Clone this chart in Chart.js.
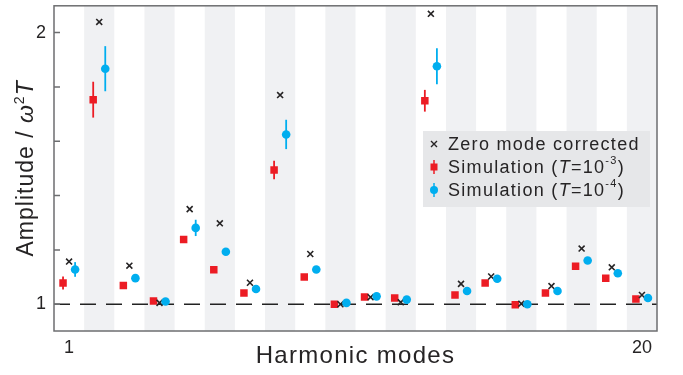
<!DOCTYPE html>
<html>
<head>
<meta charset="utf-8">
<script src="https://cdn.jsdelivr.net/npm/chart.js@4.4.1/dist/chart.umd.min.js"></script>
<style>
  html, body { margin: 0; padding: 0; background: #fff; }
  #wrap { width: 683px; height: 375px; }
</style>
</head>
<body>
<div id="wrap"><canvas id="modesChart"></canvas></div>
<script>
// ===== Data =====
const modes = [1, 2, 3, 4, 5, 6, 7, 8, 9, 10, 11, 12, 13, 14, 15, 16, 17, 18, 19, 20];
const zeroCorrected = [1.157, 2.039, 1.142, 1.005, 1.350, 1.298, 1.079, 1.770, 1.185, 1.000,
                       1.026, 1.007, 2.069, 1.075, 1.102, 1.002, 1.067, 1.205, 1.136, 1.034];
const simT3 = [1.078, 1.753, 1.069, 1.012, 1.238, 1.127, 1.041, 1.494, 1.100, 1.000,
               1.027, 1.023, 1.749, 1.034, 1.078, 0.998, 1.041, 1.140, 1.096, 1.019];
const simT3Err = [0.024, 0.066, 0.008, 0.006, 0.012, 0.008, 0.006, 0.034, 0.008, 0.005,
                  0.005, 0.005, 0.040, 0.006, 0.006, 0.005, 0.006, 0.008, 0.008, 0.005];
const simT4 = [1.128, 1.867, 1.096, 1.010, 1.281, 1.193, 1.056, 1.625, 1.128, 1.005,
               1.029, 1.017, 1.876, 1.049, 1.094, 1.000, 1.049, 1.161, 1.114, 1.023];
const simT4Err = [0.027, 0.083, 0.008, 0.005, 0.030, 0.010, 0.006, 0.054, 0.008, 0.005,
                  0.005, 0.005, 0.066, 0.006, 0.006, 0.005, 0.006, 0.008, 0.008, 0.005];
const yTicks = [1, 1.2, 1.4, 1.6, 1.8, 2];
const yTickLabels = ['1', '', '', '', '', '2'];
const xTickModes = [1, 20];

const RED = '#ec1c24';
const BLUE = '#00aeef';
const INK = '#262425';
const FONT = '"Liberation Sans", Arial, sans-serif';
const OFFSET = 0.2;

const pts = (vals, dx) => vals.map((v, i) => ({ x: modes[i] + dx, y: v }));

// ===== Plugins =====
const bandsPlugin = {
  id: 'bands',
  beforeDatasetsDraw(chart) {
    const { ctx, chartArea: a, scales: { x, y } } = chart;
    ctx.save();
    ctx.fillStyle = '#f0f1f3';
    modes.filter(m => m % 2 === 0).forEach(m => {
      const l = x.getPixelForValue(m - 0.5), r = x.getPixelForValue(m + 0.5);
      ctx.fillRect(l, a.top, r - l, a.bottom - a.top);
    });
    // reference line at 1
    ctx.strokeStyle = '#222';
    ctx.lineWidth = 1.5;
    ctx.setLineDash([16, 10]);
    ctx.beginPath();
    ctx.moveTo(a.left, y.getPixelForValue(1));
    ctx.lineTo(a.right, y.getPixelForValue(1));
    ctx.stroke();
    ctx.setLineDash([]);
    // error bars
    ctx.lineWidth = 1.8;
    [[simT3, simT3Err, -OFFSET, RED], [simT4, simT4Err, OFFSET, BLUE]].forEach(([vals, errs, dx, col]) => {
      ctx.strokeStyle = col;
      vals.forEach((v, i) => {
        const px = x.getPixelForValue(modes[i] + dx);
        ctx.beginPath();
        ctx.moveTo(px, y.getPixelForValue(v - errs[i]));
        ctx.lineTo(px, y.getPixelForValue(v + errs[i]));
        ctx.stroke();
      });
    });
    ctx.restore();
  }
};

// text runs [{t, italic, sup}] drawn one after another
function setRunFont(ctx, r, size) {
  ctx.font = (r.italic ? 'italic ' : '') + (r.sup ? Math.round(size * 0.6) : size) + 'px ' + FONT;
}
function runsWidth(ctx, runs, size) {
  let w = 0;
  runs.forEach(r => { setRunFont(ctx, r, size); w += ctx.measureText(r.t).width; });
  return w;
}
function drawRuns(ctx, runs, x0, y0, size) {
  let cx = x0;
  runs.forEach(r => {
    setRunFont(ctx, r, size);
    ctx.fillText(r.t, cx, r.sup ? y0 - size * 0.38 : y0);
    cx += ctx.measureText(r.t).width;
  });
}

const framePlugin = {
  id: 'frame',
  afterDraw(chart) {
    const { ctx, chartArea: a, scales: { x, y } } = chart;
    ctx.save();
    ctx.strokeStyle = '#6d6e70';
    ctx.lineWidth = 1.5;
    ctx.strokeRect(a.left, a.top, a.right - a.left, a.bottom - a.top);
    // inward y ticks
    ctx.beginPath();
    yTicks.forEach(v => {
      const py = y.getPixelForValue(v);
      ctx.moveTo(a.left, py);
      ctx.lineTo(a.left + 6, py);
    });
    ctx.stroke();

    ctx.fillStyle = INK;
    ctx.font = '18px ' + FONT;
    ctx.textAlign = 'right';
    ctx.textBaseline = 'middle';
    yTicks.forEach((v, i) => {
      if (yTickLabels[i]) ctx.fillText(yTickLabels[i], a.left - 8, y.getPixelForValue(v));
    });
    ctx.textAlign = 'center';
    xTickModes.forEach(m => ctx.fillText(String(m), x.getPixelForValue(m), 348));

    ctx.font = '24px ' + FONT;
    ctx.letterSpacing = '1.3px';
    ctx.textBaseline = 'alphabetic';
    ctx.fillText('Harmonic modes', x.getPixelForValue(10.5), 363);

    // y axis title
    const title = [{ t: 'Amplitude / ' }, { t: 'ω', italic: true }, { t: '2', sup: true }, { t: 'T', italic: true }];
    ctx.letterSpacing = '1px';
    ctx.textAlign = 'left';
    ctx.translate(33, (a.top + a.bottom) / 2);
    ctx.rotate(-Math.PI / 2);
    const w = runsWidth(ctx, title, 23);
    drawRuns(ctx, title, -w / 2, 0, 23);
    ctx.restore();

    // legend
    ctx.save();
    ctx.fillStyle = '#e6e7e9';
    ctx.fillRect(423, 131, 227, 76);
    const rows = [
      [{ t: 'Zero mode corrected' }],
      [{ t: 'Simulation (' }, { t: 'T', italic: true }, { t: '=10' }, { t: '-3', sup: true }, { t: ')' }],
      [{ t: 'Simulation (' }, { t: 'T', italic: true }, { t: '=10' }, { t: '-4', sup: true }, { t: ')' }]
    ];
    const rowY = [144, 167, 190];
    ctx.strokeStyle = INK;
    ctx.lineWidth = 1.4;
    ctx.beginPath();
    ctx.moveTo(431, rowY[0] - 3); ctx.lineTo(437, rowY[0] + 3);
    ctx.moveTo(437, rowY[0] - 3); ctx.lineTo(431, rowY[0] + 3);
    ctx.stroke();
    ctx.lineWidth = 1.5;
    ctx.strokeStyle = RED;
    ctx.beginPath(); ctx.moveTo(434, rowY[1] - 7); ctx.lineTo(434, rowY[1] + 7); ctx.stroke();
    ctx.fillStyle = RED;
    ctx.fillRect(430.5, rowY[1] - 3.5, 7, 7);
    ctx.strokeStyle = BLUE;
    ctx.beginPath(); ctx.moveTo(434, rowY[2] - 7); ctx.lineTo(434, rowY[2] + 7); ctx.stroke();
    ctx.fillStyle = BLUE;
    ctx.beginPath(); ctx.arc(434, rowY[2], 4, 0, Math.PI * 2); ctx.fill();

    ctx.fillStyle = INK;
    ctx.textAlign = 'left';
    ctx.textBaseline = 'middle';
    ctx.letterSpacing = '1.3px';
    rows.forEach((r, i) => drawRuns(ctx, r, 448, rowY[i] + 1, 18));
    ctx.restore();
  }
};

// ===== Chart =====
const ctx = document.getElementById('modesChart').getContext('2d');
const modesChart = new Chart(ctx, {
  type: 'scatter',
  data: {
    datasets: [
      {
        label: 'Zero mode corrected',
        data: pts(zeroCorrected, 0),
        order: 1,
        pointStyle: 'crossRot',
        pointRadius: 4.2,
        borderColor: INK,
        borderWidth: 1.6
      },
      {
        label: 'Simulation (T=10-3)',
        data: pts(simT3, -OFFSET),
        order: 2,
        pointStyle: 'rect',
        pointRadius: 5.3,
        backgroundColor: RED,
        borderColor: RED,
        borderWidth: 0
      },
      {
        label: 'Simulation (T=10-4)',
        data: pts(simT4, OFFSET),
        order: 0,
        pointStyle: 'circle',
        pointRadius: 4.3,
        backgroundColor: BLUE,
        borderColor: BLUE,
        borderWidth: 0
      }
    ]
  },
  options: {
    responsive: true,
    maintainAspectRatio: false,
    animation: false,
    layout: { padding: { left: 54, right: 26, top: 3, bottom: 44 } },
    plugins: { legend: { display: false }, tooltip: { enabled: false } },
    scales: {
      x: { type: 'linear', min: 0.5, max: 20.5, display: false },
      y: { min: 0.9015, max: 2.0985, display: false }
    }
  },
  plugins: [bandsPlugin, framePlugin]
});
</script>
</body>
</html>
